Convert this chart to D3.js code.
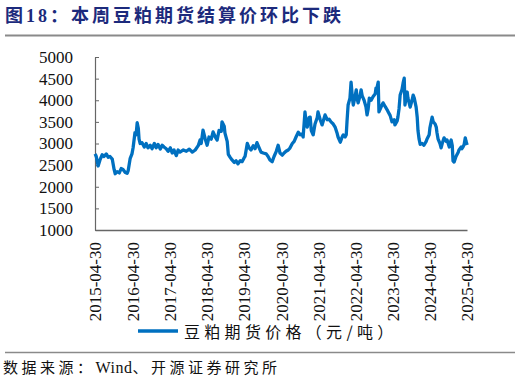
<!DOCTYPE html>
<html>
<head>
<meta charset="utf-8">
<script src="https://cdn.jsdelivr.net/npm/d3@7"></script>
<style>
  html, body { margin: 0; padding: 0; background: #fff; }
  svg { display: block; }
</style>
</head>
<body>
<svg id="chart" width="520" height="378"></svg>
<script>
const titleText = "图18：本周豆粕期货结算价环比下跌";
const sourceParts = ["数据来源：", "Wind", "、开源证券研究所"];
const seriesName = "豆粕期货价格（元/吨）";

const xTickLabels = ["2015-04-30","2016-04-30","2017-04-30","2018-04-30","2019-04-30","2020-04-30","2021-04-30","2022-04-30","2023-04-30","2024-04-30","2025-04-30"];
const yTicks = [1000,1500,2000,2500,3000,3500,4000,4500,5000];

// time in decimal years
const timeYears = [
2015.33,2015.36,2015.41,2015.46,2015.52,2015.57,2015.63,2015.68,2015.73,2015.79,2015.84,2015.87,2015.92,2015.98,
2016.03,2016.08,2016.14,2016.19,2016.22,2016.27,2016.32,2016.35,2016.40,2016.43,2016.46,2016.49,2016.51,2016.54,2016.59,2016.65,2016.70,2016.75,2016.81,2016.86,2016.92,2016.97,
2017.02,2017.08,2017.13,2017.18,2017.24,2017.29,2017.35,2017.40,2017.45,2017.51,2017.56,2017.61,2017.70,2017.78,2017.86,2017.94,
2018.02,2018.10,2018.15,2018.18,2018.23,2018.29,2018.34,2018.39,2018.45,2018.50,2018.56,2018.61,2018.66,2018.72,2018.74,2018.80,2018.82,2018.88,2018.91,2018.96,
2019.01,2019.07,2019.12,2019.17,2019.23,2019.28,2019.33,2019.36,2019.42,2019.47,2019.52,2019.58,2019.63,2019.68,2019.74,2019.79,2019.85,2019.93,2019.98,
2020.03,2020.09,2020.14,2020.20,2020.25,2020.30,2020.36,2020.41,2020.46,2020.52,2020.57,2020.63,2020.68,2020.73,2020.79,2020.84,2020.89,2020.92,2020.97,
2021.00,2021.03,2021.08,2021.11,2021.14,2021.19,2021.24,2021.30,2021.32,2021.38,2021.43,2021.49,2021.51,2021.57,2021.62,2021.67,2021.73,2021.78,2021.83,2021.86,2021.92,2021.97,
2022.00,2022.05,2022.08,2022.10,2022.13,2022.18,2022.21,2022.24,2022.27,2022.32,2022.35,2022.37,2022.40,2022.45,2022.48,2022.51,2022.56,2022.61,2022.64,2022.67,2022.70,2022.75,2022.80,2022.86,2022.88,2022.91,2022.94,2022.96,
2023.02,2023.07,2023.13,2023.18,2023.21,2023.26,2023.31,2023.37,2023.39,2023.45,2023.47,2023.50,2023.53,2023.58,2023.61,2023.64,2023.66,2023.69,2023.72,2023.74,2023.80,2023.85,2023.88,2023.91,2023.96,2023.99,
2024.01,2024.04,2024.07,2024.12,2024.17,2024.23,2024.25,2024.31,2024.33,2024.39,2024.42,2024.47,2024.50,2024.52,2024.55,2024.60,2024.63,2024.66,2024.71,2024.77,2024.79,2024.82,2024.85,2024.87,2024.90,2024.93,2024.95,2024.98,
2025.01,2025.03,2025.09,2025.11,2025.17,2025.19,2025.22,2025.25,2025.28,2025.30,2025.33
];
const prices = [
2760,2700,2480,2620,2740,2700,2760,2680,2700,2640,2400,2300,2350,2320,
2420,2400,2330,2310,2380,2650,2760,2900,3250,3200,3480,3350,3100,3000,3020,2920,3000,2900,2960,2880,3000,2900,
2980,2870,2960,2920,2880,2820,2900,2780,2850,2720,2850,2800,2850,2820,2870,2800,
2850,2950,3080,3000,3310,3100,2960,3150,3100,3270,3150,3080,3300,3280,3500,3400,3240,3050,2750,2680,
2620,2560,2600,2530,2600,2580,2660,2700,3000,2900,2850,2950,2880,3020,2900,2800,2780,2760,2700,
2620,2580,2700,2820,2960,2780,2730,2780,2820,2850,2900,3000,3050,3150,3260,3200,3220,3150,3730,
3500,3380,3600,3610,3300,3200,3450,3600,3730,3550,3430,3600,3660,3550,3560,3500,3450,3380,3250,3150,3030,3150,
3200,3150,3200,3500,3890,4050,4420,4100,3890,4100,4240,4050,3940,4100,4240,4100,4000,3850,3660,3800,4050,4000,4080,4150,4280,4300,4420,3730,
3850,3940,3850,3780,3730,3650,3500,3550,3430,3520,3610,3800,4120,4250,4400,4510,3890,4050,4190,4050,3840,4000,4120,4050,3840,3600,
3300,3100,2980,3000,2960,3050,3100,3200,3360,3610,3500,3450,3380,3250,3100,3000,2900,3000,3130,3050,3080,3000,2920,3010,3080,2950,2600,2570,
2650,2700,2800,2850,2920,2880,2920,2980,3130,3050,2965
];

function decYearToDate(t) {
  const y = Math.floor(t);
  const s = new Date(y, 0, 1).getTime();
  const e = new Date(y + 1, 0, 1).getTime();
  return new Date(s + (t - y) * (e - s));
}
const parse = d3.timeParse("%Y-%m-%d");
const data = timeYears.map((t, i) => ({ date: decYearToDate(t), value: prices[i] }));
const tickDates = xTickLabels.map(parse);

const svg = d3.select("#chart");
const cjk = "'Noto Sans CJK SC', 'Noto Sans', sans-serif";
const serif = "'Liberation Serif', 'DejaVu Serif', serif";

// Title
svg.append("text")
  .attr("x", 5).attr("y", 22)
  .attr("font-family", serif + "," + cjk)
  .attr("font-size", 18).attr("font-weight", 700)
  .attr("letter-spacing", 3)
  .attr("fill", "#1c2a7c")
  .text(titleText);

svg.append("line").attr("x1", 5).attr("x2", 515).attr("y1", 35.5).attr("y2", 35.5)
  .attr("stroke", "#8a8a8a").attr("stroke-width", 2);
svg.append("line").attr("x1", 5).attr("x2", 515).attr("y1", 352.5).attr("y2", 352.5)
  .attr("stroke", "#8a8a8a").attr("stroke-width", 1.5);

// Scales
const x = d3.scaleTime().domain([tickDates[0], tickDates[tickDates.length - 1]]).range([95, 467]);
const y = d3.scaleLinear().domain([1000, 5000]).range([230, 57]);

// Y axis
const yAxis = svg.append("g").attr("transform", "translate(95,0)")
  .call(d3.axisLeft(y).tickValues(yTicks).tickFormat(d3.format("d")).tickSizeInner(-4).tickSizeOuter(0).tickPadding(22));
yAxis.select(".domain").attr("stroke", "#666").attr("stroke-width", 1.2);
yAxis.selectAll(".tick line").attr("stroke", "#666");
yAxis.selectAll("text").attr("font-family", serif).attr("font-size", 17).attr("fill", "#111");

// X axis
const xAxis = svg.append("g").attr("transform", "translate(0,230)")
  .call(d3.axisBottom(x).tickValues(tickDates).tickFormat((d, i) => xTickLabels[i]).tickSize(0).tickPadding(0));
xAxis.select(".domain").attr("stroke", "#666").attr("stroke-width", 1.5);
xAxis.selectAll("text")
  .attr("font-family", serif).attr("font-size", 17).attr("fill", "#111")
  .attr("text-anchor", "end")
  .attr("transform", "rotate(-90)")
  .attr("x", -12).attr("y", 0).attr("dy", "0.35em");

// Line
const line = d3.line().x(d => x(d.date)).y(d => y(d.value));
svg.append("path").datum(data)
  .attr("d", line)
  .attr("fill", "none")
  .attr("stroke", "#0070c0")
  .attr("stroke-width", 3.3)
  .attr("stroke-linejoin", "round");

// Legend
svg.append("line").attr("x1", 138).attr("x2", 178).attr("y1", 331).attr("y2", 331)
  .attr("stroke", "#0070c0").attr("stroke-width", 3.5);
svg.append("text").attr("x", 184).attr("y", 338)
  .attr("font-family", cjk).attr("font-size", 16).attr("letter-spacing", 4.3)
  .attr("fill", "#111")
  .text(seriesName);

// Source
const src = svg.append("text").attr("x", 3).attr("y", 373)
  .attr("font-family", serif + "," + cjk).attr("font-size", 15)
  .attr("fill", "#111");
src.append("tspan").attr("letter-spacing", 3.5).text(sourceParts[0]);
src.append("tspan").attr("letter-spacing", 0.5).attr("font-size", 16).text(sourceParts[1]);
src.append("tspan").attr("letter-spacing", 3.5).text(sourceParts[2]);
</script>
</body>
</html>
